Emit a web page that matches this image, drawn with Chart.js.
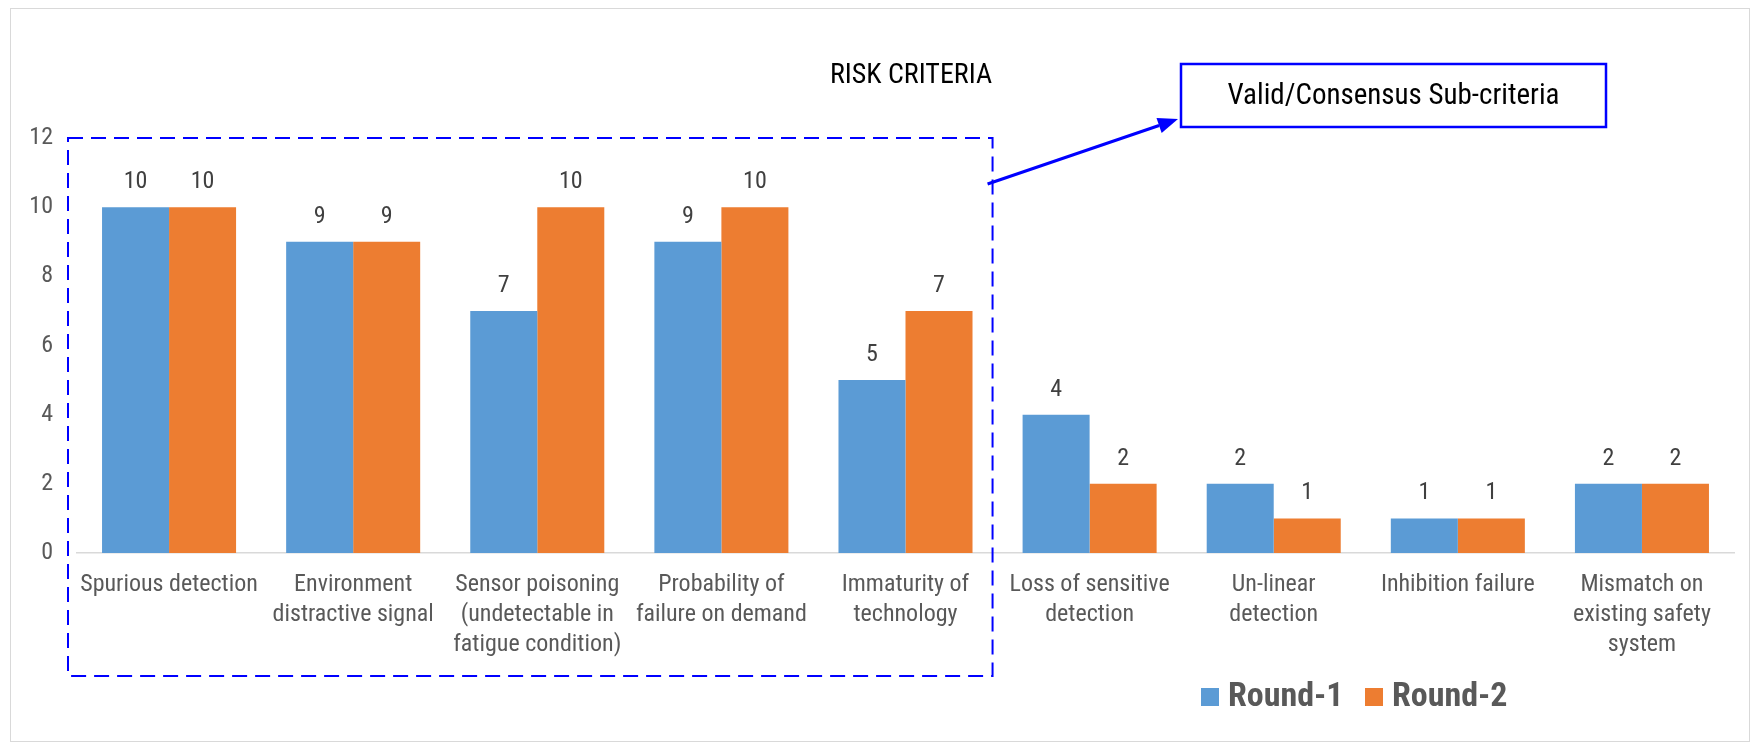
<!DOCTYPE html>
<html>
<head>
<meta charset="utf-8">
<script src="https://cdn.jsdelivr.net/npm/chart.js@4/dist/chart.umd.min.js"></script>
<style>
  html, body { margin: 0; padding: 0; background: #ffffff; }
  #wrap { width: 1755px; height: 744px; position: relative; }
</style>
</head>
<body>
<div id="wrap"><canvas id="chart" width="1755" height="744"></canvas></div>
<script>
// Risk sub-criteria scored over two consensus rounds
const categories = [
  'Spurious detection',
  ['Environment', 'distractive signal'],
  ['Sensor poisoning', '(undetectable in', 'fatigue condition)'],
  ['Probability of', 'failure on demand'],
  ['Immaturity of', 'technology'],
  ['Loss of sensitive', 'detection'],
  ['Un-linear', 'detection'],
  'Inhibition failure',
  ['Mismatch on', 'existing safety', 'system']
];
const round1 = [10, 9, 7, 9, 5, 4, 2, 1, 2];
const round2 = [10, 9, 10, 10, 7, 2, 1, 1, 2];
const seriesNames = ['Round-1', 'Round-2'];
const seriesColors = ['#5B9BD5', '#ED7D31'];
const yMin = 0, yMax = 12, yStep = 2;
const chartTitle = 'RISK CRITERIA';
const calloutText = 'Valid/Consensus Sub-criteria';
const groupedCount = 5; // first five categories sit inside the dashed frame

const FONT = "'Liberation Sans Narrow', 'Arial Narrow', 'Roboto Condensed', sans-serif";
const BLUE = '#0000ff';

// value labels above every bar
const valueLabels = {
  id: 'valueLabels',
  afterDatasetsDraw(chart) {
    const ctx = chart.ctx;
    ctx.save();
    ctx.font = `24px ${FONT}`;
    ctx.fillStyle = '#404040';
    ctx.textAlign = 'center';
    ctx.textBaseline = 'middle';
    chart.data.datasets.forEach((ds, i) => {
      chart.getDatasetMeta(i).data.forEach((bar, j) => {
        ctx.fillText(String(ds.data[j]), bar.x, bar.y - 25);
      });
    });
    ctx.restore();
  }
};

// frame, title, dashed grouping, callout arrow and legend
const decorations = {
  id: 'decorations',
  beforeDraw(chart) {
    const ctx = chart.ctx;
    ctx.save();
    ctx.fillStyle = '#ffffff';
    ctx.fillRect(0, 0, chart.width, chart.height);
    ctx.restore();
  },
  afterDraw(chart) {
    const ctx = chart.ctx;
    const x = chart.scales.x, y = chart.scales.y;
    ctx.save();

    // outer chart frame
    ctx.strokeStyle = '#d9d9d9';
    ctx.lineWidth = 1;
    ctx.strokeRect(10.5, 8.5, 1739, 733);

    // title
    ctx.fillStyle = '#000000';
    ctx.font = `28px ${FONT}`;
    ctx.textAlign = 'center';
    ctx.textBaseline = 'middle';
    ctx.fillText(chartTitle, 911, 76);

    // dashed frame round the consensus categories
    const half = (x.getPixelForValue(1) - x.getPixelForValue(0)) / 2;
    const fx0 = x.left - 9;
    const fx1 = x.getPixelForValue(groupedCount - 1) + half - 5;
    const fy0 = y.getPixelForValue(yMax);
    const fy1 = 676;
    ctx.strokeStyle = BLUE;
    ctx.lineWidth = 2;
    ctx.setLineDash([15, 8]);
    ctx.strokeRect(fx0, fy0, fx1 - fx0, fy1 - fy0);
    ctx.setLineDash([]);

    // callout box
    const bx = 1181, by = 64, bw = 425, bh = 63;
    ctx.lineWidth = 2.5;
    ctx.strokeRect(bx, by, bw, bh);
    ctx.fillStyle = '#000000';
    ctx.font = `29px ${FONT}`;
    ctx.fillText(calloutText, bx + bw / 2, by + bh / 2 + 1);

    // arrow from frame to callout
    const ax0 = fx1 - 5, ay0 = 184, ax1 = bx - 3, ay1 = 119;
    const ang = Math.atan2(ay1 - ay0, ax1 - ax0);
    const head = 20, hw = 8;
    const baseX = ax1 - head * Math.cos(ang), baseY = ay1 - head * Math.sin(ang);
    ctx.strokeStyle = BLUE;
    ctx.lineWidth = 3;
    ctx.beginPath();
    ctx.moveTo(ax0, ay0);
    ctx.lineTo(baseX, baseY);
    ctx.stroke();
    ctx.fillStyle = BLUE;
    ctx.beginPath();
    ctx.moveTo(ax1, ay1);
    ctx.lineTo(baseX + hw * Math.sin(ang), baseY - hw * Math.cos(ang));
    ctx.lineTo(baseX - hw * Math.sin(ang), baseY + hw * Math.cos(ang));
    ctx.closePath();
    ctx.fill();

    // legend
    const legendX = [1201, 1365];
    ctx.font = `bold 34px ${FONT}`;
    ctx.textAlign = 'left';
    ctx.textBaseline = 'middle';
    chart.data.datasets.forEach((ds, i) => {
      ctx.fillStyle = ds.backgroundColor;
      ctx.fillRect(legendX[i], 688, 18, 18);
      ctx.fillStyle = '#595959';
      ctx.fillText(ds.label, legendX[i] + 27, 697);
    });

    ctx.restore();
  }
};

new Chart(document.getElementById('chart'), {
  type: 'bar',
  data: {
    labels: categories,
    datasets: [
      { label: seriesNames[0], data: round1, backgroundColor: seriesColors[0],
        categoryPercentage: 0.728, barPercentage: 1.0, borderWidth: 0 },
      { label: seriesNames[1], data: round2, backgroundColor: seriesColors[1],
        categoryPercentage: 0.728, barPercentage: 1.0, borderWidth: 0 }
    ]
  },
  options: {
    responsive: false,
    animation: false,
    devicePixelRatio: 1,
    layout: { padding: { left: 0, top: 138, right: 21, bottom: 0 } },
    plugins: {
      legend: { display: false },
      title: { display: false },
      tooltip: { enabled: false }
    },
    scales: {
      x: {
        grid: { display: false, drawTicks: false },
        border: { display: true, color: '#d9d9d9', width: 1.5 },
        ticks: {
          color: '#595959',
          font: { family: FONT, size: 24, lineHeight: 1.25 },
          padding: 17,
          autoSkip: false,
          maxRotation: 0,
          minRotation: 0
        },
        afterFit(scale) { scale.height = 191; }
      },
      y: {
        min: yMin,
        max: yMax,
        grid: { display: false, drawTicks: false },
        border: { display: false },
        ticks: {
          stepSize: yStep,
          color: '#595959',
          font: { family: FONT, size: 24 },
          padding: 24
        },
        afterFit(scale) { scale.width = 77; }
      }
    }
  },
  plugins: [valueLabels, decorations]
});
</script>
</body>
</html>
